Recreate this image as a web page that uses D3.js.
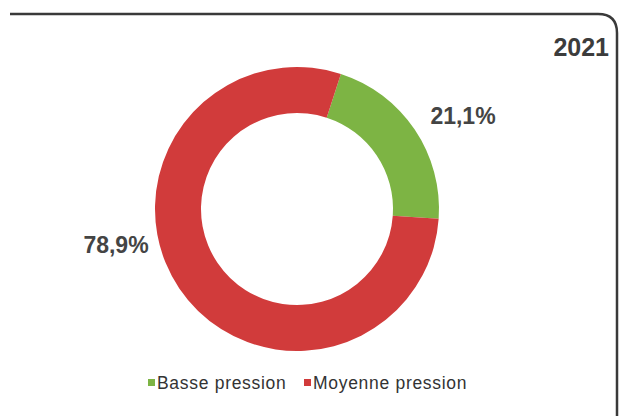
<!DOCTYPE html>
<html><head><meta charset="utf-8">
<script src="https://cdn.jsdelivr.net/npm/d3@7"></script>
<style>body{margin:0;background:#fff}svg{display:block}</style>
</head><body>
<svg id="c" width="620" height="416"></svg>
<script>
const categories = ["Basse pression", "Moyenne pression"];
const values = [21.1, 78.9];
const labels = ["21,1%", "78,9%"];
const colors = ["#7db444", "#d13b3b"];
const title = "2021";

const svg = d3.select("#c");
const font = "'Liberation Sans', Arial, sans-serif";

// frame
svg.append("path")
  .attr("d", "M10,14 L598,14 Q617,14 617,33 L617,418")
  .attr("fill", "none").attr("stroke", "#3a3a3a").attr("stroke-width", 2.5);

svg.append("text").attr("x", 609).attr("y", 56).attr("text-anchor", "end")
  .attr("font-family", font).attr("font-weight", "bold").attr("font-size", 25)
  .attr("fill", "#3c3c3c").text(title);

const cx = 297, cy = 209, rOut = 142, rIn = 96;
const off = 18 * Math.PI / 180;
const pie = d3.pie().sort(null).startAngle(off).endAngle(off + 2 * Math.PI);
const arcs = pie(values);
const arc = d3.arc().innerRadius(rIn).outerRadius(rOut);
const g = svg.append("g").attr("transform", `translate(${cx},${cy})`);
g.selectAll("path").data(arcs).join("path")
  .attr("d", arc).attr("fill", (d, i) => colors[i]);

const labelPos = [[463, 124], [116, 253]];
svg.selectAll("text.lbl").data(labels).join("text").attr("class", "lbl")
  .attr("x", (d, i) => labelPos[i][0]).attr("y", (d, i) => labelPos[i][1])
  .attr("text-anchor", "middle").attr("font-family", font)
  .attr("font-weight", "bold").attr("font-size", 23).attr("fill", "#444")
  .text(d => d);

// legend
const legX = [148, 304];
const lg = svg.selectAll("g.leg").data(categories).join("g").attr("class", "leg")
  .attr("transform", (d, i) => `translate(${legX[i]},389)`);
lg.append("rect").attr("x", 0).attr("y", -10).attr("width", 7).attr("height", 7)
  .attr("fill", (d, i) => colors[i]);
lg.append("text").attr("x", 9).attr("y", 0).attr("font-family", font)
  .attr("font-size", 17.5).attr("letter-spacing", 0.7).attr("fill", "#333").text(d => d);
</script>
</body></html>
